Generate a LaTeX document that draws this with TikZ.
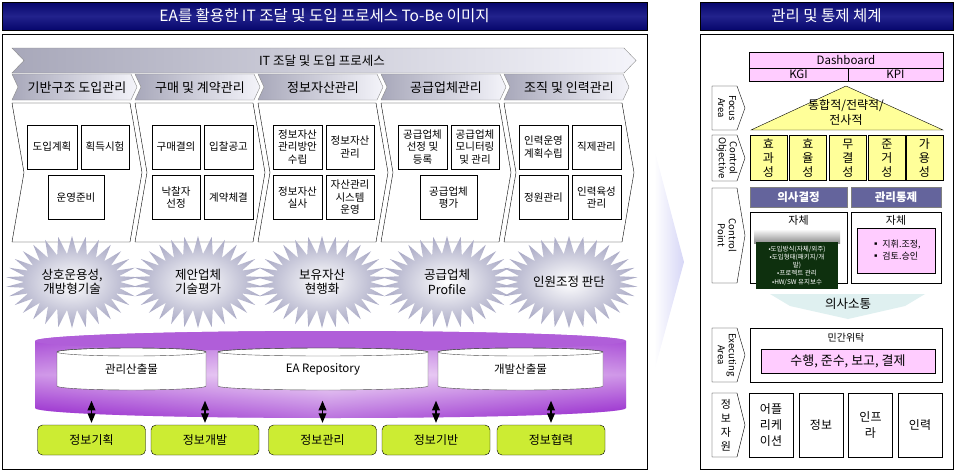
\documentclass[tikz,border=0pt]{standalone}
\usepackage{fontspec}
\setmainfont{Noto Sans CJK KR}
\usetikzlibrary{arrows,shapes}
\pgfdeclarelayer{background}
\pgfsetlayers{background,main}
\definecolor{titlenavy}{RGB}{6,6,108}
\definecolor{titlemid}{RGB}{34,34,140}
\definecolor{chevdark}{RGB}{168,168,186}
\definecolor{chevlight}{RGB}{244,244,250}
\definecolor{burstgray}{RGB}{168,168,196}
\definecolor{repopurple}{RGB}{150,40,205}
\definecolor{repolight}{RGB}{238,210,246}
\definecolor{areagreen}{RGB}{204,236,51}
\definecolor{dashpink}{RGB}{255,204,255}
\definecolor{goalyellow}{RGB}{255,255,153}
\definecolor{headpurple}{RGB}{100,100,156}
\definecolor{boardgreen}{RGB}{14,48,14}
\definecolor{commteal}{RGB}{128,196,196}
\definecolor{flowlav}{RGB}{214,214,246}
\tikzstyle{titlebar}=[draw=black,top color=titlenavy,bottom color=titlenavy,middle color=titlemid,text=white,inner sep=0pt,font=\fontsize{15.5}{17}\selectfont]
\tikzstyle{panel}=[draw=black,fill=white,inner sep=0pt]
\tikzstyle{procchev}=[draw=black!45,left color=chevdark,right color=chevlight]
\tikzstyle{phasetext}=[inner sep=0pt,font=\fontsize{13}{15}\selectfont]
\tikzstyle{colshape}=[draw=black,fill=white]
\tikzstyle{task}=[draw=black,fill=white,inner sep=0pt,align=center,minimum height=44pt,font=\fontsize{10.5}{12.5}\selectfont]
\tikzstyle{burst}=[starburst,starburst points=30,starburst point height=18pt,random starburst=0,inner color=white,outer color=burstgray,minimum width=132pt,minimum height=92pt,inner sep=0pt,align=center,font=\fontsize{12.5}{14.5}\selectfont]
\tikzstyle{repostore}=[draw=black!70,fill=white]
\tikzstyle{areabox}=[draw=black,fill=areagreen,rounded corners=5pt,minimum width=108pt,minimum height=30pt,font=\fontsize{12}{14}\selectfont]
\tikzstyle{link}=[<->,>=triangle 45,line width=1.2pt]
\tikzstyle{pinkcell}=[draw=black,fill=dashpink,inner sep=0pt,font=\fontsize{11.5}{12}\selectfont]
\tikzstyle{goalcell}=[draw=black,fill=goalyellow,inner sep=0pt,align=center,minimum width=37pt,minimum height=45pt,font=\fontsize{12}{14}\selectfont]
\tikzstyle{headcell}=[draw=black!50,fill=headpurple,text=white,inner sep=0pt,minimum height=20pt,font=\bfseries\fontsize{11.5}{13}\selectfont]
\tikzstyle{plainbox}=[draw=black,fill=white,inner sep=0pt]
\tikzstyle{boardcell}=[fill=boardgreen,text=white,inner sep=0pt,align=center,minimum width=82pt,minimum height=47pt,font=\fontsize{6.5}{8.3}\selectfont]
\tikzstyle{tagshape}=[draw=black,fill=white]
\tikzstyle{tagtext}=[inner sep=0pt,align=center,font=\fontsize{9.5}{11}\selectfont]
\tikzstyle{resbox}=[draw=black,fill=white,inner sep=0pt,align=center,minimum width=44pt,minimum height=64pt,font=\fontsize{12}{16}\selectfont]

\begin{document}
\begin{tikzpicture}[x=1pt,y=-1pt]
    \useasboundingbox (0,0) rectangle (955,471);
    % Left panel with its title
    \node[panel, minimum width=645pt, minimum height=435pt] (leftpanel) at (324.5,251.5) {};
    \node[titlebar, minimum width=645pt, minimum height=28pt] (lefttitle) at (324.5,16) {EA를 활용한 IT 조달 및 도입 프로세스 To-Be 이미지};
    % The process chevron, then one phase and one column per step
    \path[procchev] (12,48) -- (624,48) -- (636,60.5) -- (624,73) -- (12,73) -- (24,60.5) -- cycle;
    \node[phasetext, font=\fontsize{12.5}{14}\selectfont] (process) at (322,61) {IT 조달 및 도입 프로세스};
    \foreach \xa/\name/\txt in {12/infra/기반구조 도입관리, 135/buy/구매 및 계약관리, 258/asset/정보자산관리, 381/vendor/공급업체관리, 504/staff/조직 및 인력관리}
    {
        \path[procchev] (\xa,74) -- ({\xa+119},74) -- ({\xa+125},87) -- ({\xa+119},100) -- (\xa,100) -- ({\xa+6},87) -- cycle;
        \node[phasetext] (\name) at ({\xa+65},87.5) {\txt};
        \path[colshape] (\xa,103) -- ({\xa+118},103) -- ({\xa+130},172.5) -- ({\xa+118},242) -- (\xa,242) -- ({\xa+12},172.5) -- cycle;
    }
    % Tasks inside the columns
    \foreach \pos/\w/\name/\txt in {{(52,147)/50/plan/도입계획}, {(105,147)/48/test/획득시험}, {(76,197.5)/56/operate/운영준비},
        {(176,147)/48/resolve/구매결의}, {(228.5,147)/49/bid/입찰공고}, {(176,197.5)/48/award/낙찰자\\선정}, {(228.5,197.5)/49/contract/계약체결},
        {(297.5,147)/49/assetplan/정보자산\\관리방안\\수립}, {(350,147)/48/assetmgmt/정보자산\\관리}, {(297.5,197.5)/49/audit/정보자산\\실사}, {(350,197.5)/48/assetsys/자산관리\\시스템\\운영},
        {(422.5,147)/49/select/공급업체\\선정 및\\등록}, {(475,147)/48/monitor/공급업체\\모니터링\\및 관리}, {(448.5,197.5)/57/rate/공급업체\\평가},
        {(543.5,147)/49/hrplan/인력운영\\계획수립}, {(596.5,147)/49/posts/직제관리}, {(543.5,197.5)/49/quota/정원관리}, {(596.5,197.5)/49/train/인력육성\\관리}}
        \node[task, minimum width=\w] (\name) at \pos {\txt};
    % Key results of each step
    \foreach \x/\name/\txt in {{72/interop/상호운용성,\\개방형기술}, 198/proposal/제안업체\\기술평가, 322/current/보유자산\\현행화, 447/profile/공급업체\\Profile, 569/staffing/인원조정 판단}
        \node[burst] (\name) at (\x,282) {\txt};
    % EA repository
    \path[top color=repopurple!85, bottom color=repopurple, middle color=repolight] (35,341) -- (35,408) arc[start angle=180,end angle=360,x radius=295.5pt,y radius=10pt] -- (626,341) arc[start angle=0,end angle=180,x radius=295.5pt,y radius=10pt] -- cycle;
    \path[left color=repopurple, right color=repopurple, middle color=white, fill opacity=0.35] (35,341) -- (35,408) arc[start angle=180,end angle=360,x radius=295.5pt,y radius=10pt] -- (626,341) -- cycle;
    \path[fill=repopurple!75] (330.5,341) ellipse[x radius=295.5pt,y radius=10pt];
    \foreach \xa/\xb/\name/\txt in {57/206/mgmtout/관리산출물, 218/428/repo/EA Repository, 438/603/devout/개발산출물}
    {
        \pgfmathsetmacro{\rx}{(\xb-\xa)/2}
        \path[repostore] (\xa,352) -- (\xa,386) arc[start angle=180,end angle=360,x radius=\rx pt,y radius=4pt] -- (\xb,352) arc[start angle=0,end angle=180,x radius=\rx pt,y radius=4pt] -- cycle;
        \draw[black!70] ({(\xa+\xb)/2},352) ellipse[x radius=\rx pt,y radius=4pt];
        \node[font=\fontsize{11.5}{13}\selectfont] (\name) at ({(\xa+\xb)/2},369) {\txt};
    }
    % Information areas linked to the repository
    \foreach \x/\name/\txt in {91.5/aplan/정보기획, 205/adev/정보개발, 322.5/amgmt/정보관리, 436/abase/정보기반, 551/acoop/정보협력}
    {
        \node[areabox] (\name) at (\x,440) {\txt};
        \path (\name.north) ++(0,-24) coordinate (\name top);
        \draw[link] (\name top) -- ([yshift=2pt]\name.north);
    }
    % Flow towards the right panel
    \path[left color=white, right color=flowlav] (654,148) -- (684,262) -- (654,372) -- cycle;
    % Right panel with its title
    \node[panel, minimum width=253pt, minimum height=435pt] (rightpanel) at (826.5,251.5) {};
    \node[titlebar, minimum width=253pt, minimum height=28pt] (righttitle) at (826.5,16) {관리 및 통제 체계};
    \node[pinkcell, minimum width=194, minimum height=16] (dashboard) at (846,60) {Dashboard};
    \node[pinkcell, minimum width=99, minimum height=13] (kgi) at (798.5,74.5) {KGI};
    \node[pinkcell, minimum width=95, minimum height=13] (kpi) at (895.5,74.5) {KPI};
    \path[draw=black, fill=goalyellow] (751,130) -- (846,86) -- (943,130) -- cycle;
    \node[align=center, font=\fontsize{12}{15}\selectfont] (coverage) at (846,112) {통합적/전략적/\\전사적};
    \foreach \x/\name/\txt in {768.5/effect/효\\과\\성, 808/effic/효\\율\\성, 848/integ/무\\결\\성, 887/comply/준\\거\\성, 924.5/avail/가\\용\\성}
        \node[goalcell] (\name) at (\x,158) {\txt};
    % Left tags of the right panel
    \foreach \ya/\yb/\name/\txt in {86/130/focus/Focus\\Area, 135/181/objective/Control\\Objective, 188/283/point/Control\\Point, 328/382/executing/Executing\\Area}
    {
        \path[tagshape] (712,\ya) -- (737,\ya) -- (745,{(\ya+\yb)/2}) -- (737,\yb) -- (712,\yb) -- cycle;
        \node[tagtext, rotate=-90] (\name) at (727,{(\ya+\yb)/2}) {\txt};
    }
    \path[tagshape] (712,393) -- (737,393) -- (745,425) -- (737,457) -- (712,457) -- cycle;
    \node[tagtext, font=\fontsize{11}{14}\selectfont] (resource) at (726,425) {정\\보\\자\\원};
    % Control points
    \node[headcell, minimum width=97] (decide) at (798.5,197) {의사결정};
    \node[headcell, minimum width=90] (govern) at (896,197) {관리통제};
    \node[plainbox, minimum width=97, minimum height=71] (selfleft) at (798.5,247.5) {};
    \node[plainbox, minimum width=90, minimum height=71] (selfright) at (896,247.5) {};
    \node[font=\fontsize{11}{13}\selectfont] (selflefttxt) at (798.5,220) {자체};
    \node[font=\fontsize{11}{13}\selectfont] (selfrighttxt) at (896,220) {자체};
    \node[pinkcell, minimum width=78, minimum height=45, align=left, font=\fontsize{9}{12}\selectfont] (approve) at (896,250.5) {▪ 지휘.조정,\\▪ 검토.승인};
    \path[top color=white, bottom color=black!45] (754,229) rectangle (840,243);
    \node[boardcell] (method) at (797,265.5) {•도입방식(자체/외주)\\•도입형태(패키지/개\\발)\\•프로젝트 관리\\•HW/SW 유지보수};
    \path[left color=commteal!25, middle color=commteal, right color=commteal!25] (770,294) -- (925,294) -- (905,306) -- (848,319) -- (790,306) -- cycle;
    \node[font=\fontsize{12.5}{14}\selectfont] (communicate) at (848,304) {의사소통};
    % Executing area and resources
    \node[plainbox, minimum width=192, minimum height=54] (outsource) at (846,355) {};
    \node[font=\fontsize{10}{12}\selectfont] (outsourcetxt) at (846,338) {민간위탁};
    \node[pinkcell, minimum width=174, minimum height=24, font=\fontsize{13}{15}\selectfont] (duties) at (848,361) {수행, 준수, 보고, 결제};
    \foreach \x/\name/\txt in {771/rapp/어플\\리케\\이션, 821/rdata/정보, 870.5/rinfra/인프\\라, 920/rpeople/인력}
        \node[resbox] (\name) at (\x,425) {\txt};
\end{tikzpicture}
\end{document}
